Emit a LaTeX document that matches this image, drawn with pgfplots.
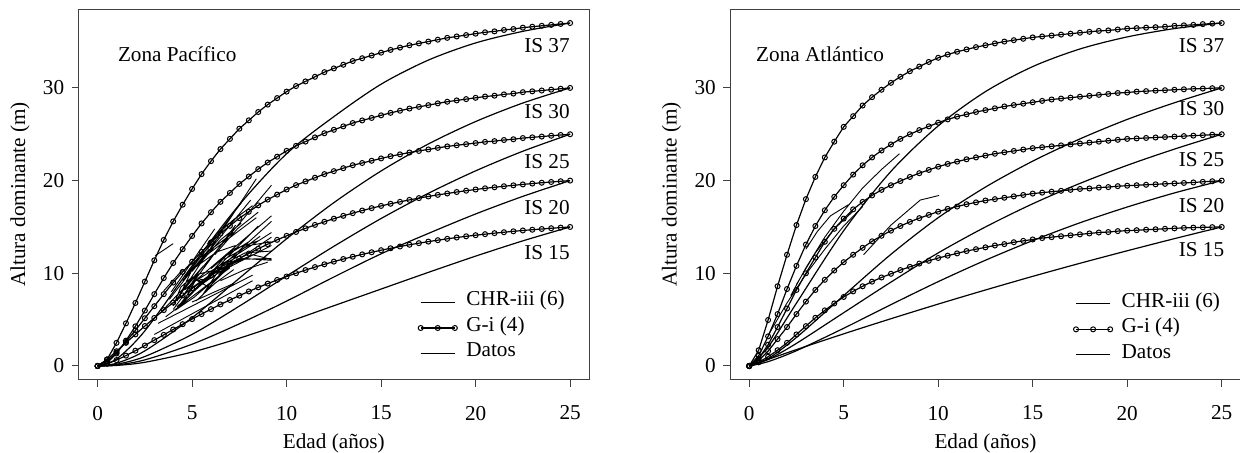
\documentclass[border=0pt]{standalone}
\usepackage{fontspec}
\setmainfont{Liberation Serif}
\usepackage{pgfplots}
\usepackage{pgfplotstable}
\pgfplotsset{compat=1.18}

% G-i (4) curves, Zona Pacifico
\pgfplotstableread{
t    g15   g20   g25   g30   g37
0    0     0     0     0     0
0.5  0.24  0.71  0.50  0.31  0.70
1    0.64  1.59  1.45  1.35  2.50
1.5  1.12  2.50  2.60  2.73  4.60
2    1.65  3.41  3.85  4.28  6.80
2.5  2.21  4.31  5.15  5.98  9.10
3    2.79  5.18  6.45  7.75  11.40
3.5  3.36  6.03  7.75  9.49  13.60
4    3.94  6.84  9.00  11.11 15.60
4.5  4.51  7.62  10.15 12.60 17.40
5    5.06  8.37  11.25 14.03 19.10
5.5  5.60  9.08  12.31 15.38 20.70
6    6.13  9.75  13.33 16.59 22.10
6.5  6.64  10.40 14.29 17.71 23.40
7    7.12  11.01 15.12 18.67 24.50
7.5  7.59  11.59 15.95 19.64 25.60
8    8.04  12.13 16.64 20.44 26.50
8.5  8.48  12.65 17.33 21.24 27.40
9    8.89  13.14 17.95 21.95 28.20
9.5  9.28  13.61 18.49 22.58 28.90
10   9.65  14.04 19.04 23.21 29.60
10.5 10.01 14.46 19.51 23.75 30.20
11   10.35 14.85 19.91 24.21 30.70
11.5 10.67 15.22 20.31 24.66 31.20
12   10.97 15.56 20.70 25.11 31.70
12.5 11.26 15.89 21.02 25.48 32.10
13   11.54 16.20 21.34 25.85 32.50
13.5 11.79 16.49 21.66 26.21 32.90
14   12.04 16.77 21.90 26.49 33.20
14.5 12.27 17.03 22.14 26.76 33.50
15   12.49 17.27 22.39 27.04 33.80
15.5 12.70 17.50 22.63 27.31 34.10
16   12.89 17.71 22.83 27.54 34.35
16.5 13.08 17.92 23.03 27.77 34.60
17   13.25 18.11 23.20 27.96 34.80
17.5 13.42 18.29 23.36 28.14 35.00
18   13.57 18.46 23.53 28.33 35.20
18.5 13.72 18.61 23.69 28.51 35.40
19   13.86 18.77 23.81 28.65 35.55
19.5 13.99 18.91 23.93 28.79 35.70
20   14.11 19.04 24.05 28.93 35.85
20.5 14.22 19.17 24.18 29.07 36.00
21   14.33 19.28 24.26 29.16 36.10
21.5 14.43 19.39 24.38 29.30 36.25
22   14.53 19.49 24.46 29.39 36.35
22.5 14.62 19.59 24.59 29.54 36.50
23   14.70 19.68 24.67 29.63 36.60
23.5 14.78 19.77 24.75 29.72 36.70
24   14.86 19.85 24.84 29.81 36.80
24.5 14.93 19.93 24.92 29.91 36.90
25   15    20    25    30    37
}\giP

% G-i (4) curves, Zona Atlantico
\pgfplotstableread{
t    g15   g20   g25   g30   g37
0    0     0     0     0     0
0.5  0.40  0.60  0.80  1.10  1.70
1    1.00  1.60  2.30  3.20  4.96
1.5  1.70  2.90  4.20  5.60  8.60
2    2.50  4.20  6.20  8.30  12.00
2.5  3.40  5.60  8.20  10.80 15.20
3    4.30  6.95  10.00 13.10 18.00
3.5  5.20  8.20  11.70 15.10 20.40
4    6.00  9.30  13.40 16.80 22.50
4.5  6.75  10.30 14.80 18.25 24.20
5    7.45  11.20 15.90 19.50 25.80
5.5  8.05  12.00 16.90 20.65 26.95
6    8.60  12.75 17.70 21.65 28.10
6.5  9.10  13.45 18.40 22.50 29.00
7    9.55  14.05 19.00 23.25 29.80
7.5  9.95  14.60 19.50 23.90 30.55
8    10.35 15.10 19.95 24.50 31.20
8.5  10.70 15.55 20.40 25.00 31.80
9    11.05 15.95 20.80 25.45 32.30
9.5  11.35 16.30 21.15 25.85 32.80
10   11.65 16.65 21.50 26.25 33.25
10.5 11.90 16.95 21.80 26.60 33.60
11   12.15 17.20 22.05 26.90 33.90
11.5 12.40 17.45 22.30 27.15 34.15
12   12.60 17.65 22.50 27.40 34.40
12.5 12.80 17.85 22.70 27.60 34.60
13   13.00 18.00 22.90 27.80 34.80
13.5 13.15 18.15 23.05 28.00 35.00
14   13.35 18.30 23.20 28.15 35.15
14.5 13.50 18.45 23.35 28.30 35.30
15   13.65 18.60 23.50 28.45 35.45
15.5 13.80 18.70 23.60 28.60 35.55
16   13.90 18.80 23.70 28.75 35.65
16.5 14.00 18.90 23.80 28.85 35.75
17   14.10 19.00 23.90 28.95 35.85
17.5 14.20 19.10 24.00 29.05 35.95
18   14.30 19.15 24.10 29.15 36.05
18.5 14.40 19.25 24.20 29.25 36.15
19   14.45 19.30 24.30 29.35 36.20
19.5 14.55 19.40 24.40 29.45 36.30
20   14.60 19.45 24.50 29.50 36.40
20.5 14.65 19.50 24.55 29.60 36.45
21   14.70 19.55 24.60 29.65 36.50
21.5 14.75 19.60 24.65 29.70 36.55
22   14.80 19.65 24.70 29.75 36.60
22.5 14.85 19.70 24.75 29.80 36.70
23   14.90 19.75 24.80 29.85 36.75
23.5 14.93 19.80 24.85 29.90 36.80
24   14.96 19.87 24.90 29.93 36.88
24.5 14.98 19.93 24.95 29.97 36.94
25   15    20    25    30    37
}\giA

% CHR-iii (6) curves
\pgfplotstableread{
t    c15   c20   c25   c30   c37
0    0     0     0     0     0
1    0.06  0.11  0.18  0.30  0.75
2.5  0.40  0.66  1.02  1.63  3.79
5    1.50  2.35  3.41  5.21  10.80
7.5  3.00  4.55  6.46  9.47  17.40
10   4.70  7.00  9.71  13.72 22.90
12.5 6.50  9.60  12.91 17.62 26.90
15   8.30  12.10 15.91 21.04 30.40
17.5 10.10 14.30 18.63 23.95 33.00
20   11.85 16.40 21.05 26.37 34.85
22.5 13.50 18.30 23.17 28.37 36.10
25   15    20    25    30    37
}\chrP

\pgfplotstableread{
t    c15   c20   c25   c30   c37
0    0     0     0     0     0
1    0.71  0.47  0.71  0.80  2.04
2.5  1.77  1.65  2.44  3.08  6.78
5    3.47  4.07  5.75  7.60  14.60
7.5  5.10  6.62  9.05  12.05 21.00
10   6.68  9.10  12.20 16.00 25.90
12.5 8.20  11.41 15.00 19.30 29.60
15   9.67  13.53 17.50 22.10 32.30
17.5 11.08 15.45 19.70 24.50 34.20
20   12.43 17.15 21.65 26.60 35.50
22.5 13.74 18.67 23.40 28.40 36.40
25   15    20    25    30    37
}\chrA

\pgfplotsset{
  panel/.style={
    scale only axis, width=255.15pt, height=185.2pt,
    xmin=-1, xmax=26, ymin=-1.48, ymax=38.48,
    xtick={0,5,10,15,20,25}, ytick={0,10,20,30},
    tick align=outside, tick pos=left, major tick length=3.5pt,
    axis line style={black!75, line width=0.5pt},
    every tick/.style={black!75, line width=0.5pt},
    /pgf/number format/assume math mode=true,
    xticklabel style={anchor=north, inner sep=0pt, yshift=-9.4pt},
    yticklabel style={anchor=east, inner sep=0pt, xshift=-3.6pt},
    xlabel={Edad (años)}, ylabel={Altura dominante (m)},
    every axis x label/.style={at={(axis description cs:0.5,-0.172)}, anchor=center, inner sep=0pt},
    every axis y label/.style={at={(axis description cs:-0.115,0.5)}, rotate=90, anchor=center, inner sep=0pt},
    unbounded coords=jump,
    legend cell align=left,
    legend style={draw=none, fill=none, anchor=west, inner sep=0pt,
      row sep=0pt, column sep=4.5pt,
      nodes={inner sep=0pt, text height=8pt, text depth=4.75pt}},
  },
  chr/.style={black, line width=0.6pt, smooth, no markers, forget plot},
  gi/.style={black, line width=0.6pt, mark=o, mark size=1.25pt,
    mark options={line width=0.5pt, solid}, forget plot},
  datos/.style={black, line width=0.45pt, no markers, forget plot},
}

\newcommand{\legendentries}{%
  \addlegendimage{black, line width=0.6pt}
  \addlegendentry{CHR-iii (6)}
  \addlegendimage{legend image code/.code={\draw[black, line width=0.6pt,
      mark=o, mark size=1.25pt, mark options={line width=0.5pt}]
      plot coordinates {(0cm,0cm) (0.3cm,0cm) (0.6cm,0cm)};}}
  \addlegendentry{G-i (4)}
  \addlegendimage{black, line width=0.45pt}
  \addlegendentry{Datos}
}

\begin{document}
\begin{tikzpicture}[font=\fontsize{10.6}{12.7}\selectfont]

% Zona Pacifico
\begin{axis}[panel, legend style={at={(axis description cs:0.6645,0.1396)}}]
\legendentries
\addplot[datos] coordinates {
(3.05,11.9) (4.0,13.2) (nan,nan)
(3.0,3.4) (8.2,9.2) (nan,nan)
(3.2,4.6) (8.2,9.8) (nan,nan)
(3.6,5.3) (7.0,10.6) (nan,nan)
(4.1,6.9) (8.4,20.2) (nan,nan)
(4.3,7.6) (9.2,19.5) (nan,nan)
(4.6,8.2) (9.2,16.2) (nan,nan)
(4.2,6.4) (9.2,15.6) (nan,nan)
(4.9,8.8) (9.2,14.4) (nan,nan)
(5.2,8.4) (9.2,13.9) (nan,nan)
(4.4,6.6) (8.5,15.1) (nan,nan)
(4.0,6.1) (7.3,15.2) (nan,nan)
(4.5,9.2) (7.6,17.6) (nan,nan)
(3.9,8.0) (6.2,14.8) (nan,nan)
(4.7,10.6) (7.2,14.4) (nan,nan)
(5.0,10.2) (8.1,17.9) (nan,nan)
(5.4,11.4) (8.4,16.0) (nan,nan)
(4.2,7.0) (5.0,10.4) (6.3,12.3) (7.3,13.0) (nan,nan)
(4.3,6.5) (5.1,8.6) (6.2,10.2) (7.7,11.6) (9.2,11.4) (nan,nan)
(4.4,7.2) (5.3,9.9) (6.1,10.3) (7.4,11.5) (9.2,11.6) (nan,nan)
(5.5,7.5) (6.6,10.9) (7.8,12.2) (9.2,12.4) (nan,nan)
(5.7,8.1) (6.9,10.6) (9.2,13.0) (nan,nan)
(4.8,7.6) (5.8,9.6) (6.8,11.9) (8.0,13.4) (nan,nan)
(5.2,7.0) (6.2,8.9) (7.2,10.4) (nan,nan)
(4.1,6.0) (5.1,7.4) (6.4,9.7) (7.1,11.2) (nan,nan)
(5.9,9.8) (7.1,11.0) (8.2,12.0) (9.2,11.5) (nan,nan)
(6.0,10.5) (7.2,12.6) (8.5,13.5) (nan,nan)
(3.4,5.9) (4.6,8.5) (5.6,10.8) (nan,nan)
(3.8,7.2) (4.9,10.1) (5.9,12.6) (nan,nan)
(5.3,10.8) (6.5,13.6) (7.6,15.4) (nan,nan)
(6.2,12.0) (7.4,14.8) (8.5,16.6) (nan,nan)
(4.6,9.6) (5.6,12.2) (6.4,13.9) (nan,nan)
(5.0,6.9) (6.2,8.0) (7.2,8.9) (nan,nan)
(6.5,9.2) (7.8,10.4) (9.0,11.2) (nan,nan)
(3.5,8.1) (4.5,10.4) (nan,nan)
(5.8,13.2) (7.2,15.8) (8.2,17.3) (nan,nan)
(6.7,11.5) (8.0,13.0) (9.2,13.4) (nan,nan)
(4.0,6.5) (4.4,8.5) (5.0,9.6) (5.5,9.0) (6.0,10.0) (nan,nan)
(4.5,6.8) (5.2,9.3) (5.8,8.6) (6.6,10.0) (nan,nan)
(6.4,9.8) (7.6,12.5) (8.6,14.0)
};
\foreach \c in {c15,c20,c25,c30,c37}{
  \addplot[chr] table[x=t, y=\c] {\chrP};
}
\foreach \g in {g15,g20,g25,g30,g37}{
  \addplot[gi] table[x=t, y=\g] {\giP};
}
\node[anchor=west, inner sep=0pt] at (axis cs:1.06,33.6) {Zona Pacífico};
\node[anchor=east, inner sep=0pt] at (axis cs:25,34.6) {IS 37};
\node[anchor=east, inner sep=0pt] at (axis cs:25,27.4) {IS 30};
\node[anchor=east, inner sep=0pt] at (axis cs:25,22.0) {IS 25};
\node[anchor=east, inner sep=0pt] at (axis cs:25,17.1) {IS 20};
\node[anchor=east, inner sep=0pt] at (axis cs:25,12.2) {IS 15};
\end{axis}

% Zona Atlantico
\begin{axis}[panel, at={(325.8pt,0pt)}, legend style={at={(axis description cs:0.6718,0.136)}}]
\legendentries
\addplot[datos] coordinates {
(3.0,12.6) (3.6,14.5) (4.3,16.2) (5.25,17.4) (nan,nan)
(2.2,7.6) (3.0,10.6) (4.0,13.9) (5.0,16.7) (6.0,19.2) (7.0,21.2) (7.95,22.9) (nan,nan)
(6.05,12.0) (7.5,15.2) (9.05,17.9) (10.05,18.4) (nan,nan)
(1.0,3.3) (2.0,6.8) (3.0,9.9) (4.0,12.6) (5.0,15.1) (6.0,17.2) (nan,nan)
(2.5,8.8) (3.5,12.2) (4.5,14.8) (5.5,16.7)
};
\foreach \c in {c15,c20,c25,c30,c37}{
  \addplot[chr] table[x=t, y=\c] {\chrA};
}
\foreach \g in {g15,g20,g25,g30,g37}{
  \addplot[gi] table[x=t, y=\g] {\giA};
}
\node[anchor=west, inner sep=0pt] at (axis cs:0.35,33.6) {Zona Atlántico};
\node[anchor=east, inner sep=0pt] at (axis cs:25.15,34.6) {IS 37};
\node[anchor=east, inner sep=0pt] at (axis cs:25.15,27.8) {IS 30};
\node[anchor=east, inner sep=0pt] at (axis cs:25.15,22.3) {IS 25};
\node[anchor=east, inner sep=0pt] at (axis cs:25.15,17.35) {IS 20};
\node[anchor=east, inner sep=0pt] at (axis cs:25.15,12.6) {IS 15};
\end{axis}

\pgfresetboundingbox
\path[use as bounding box] (-39.35pt,-36.15pt) rectangle (580.65pt,189.85pt);
\end{tikzpicture}
\end{document}
